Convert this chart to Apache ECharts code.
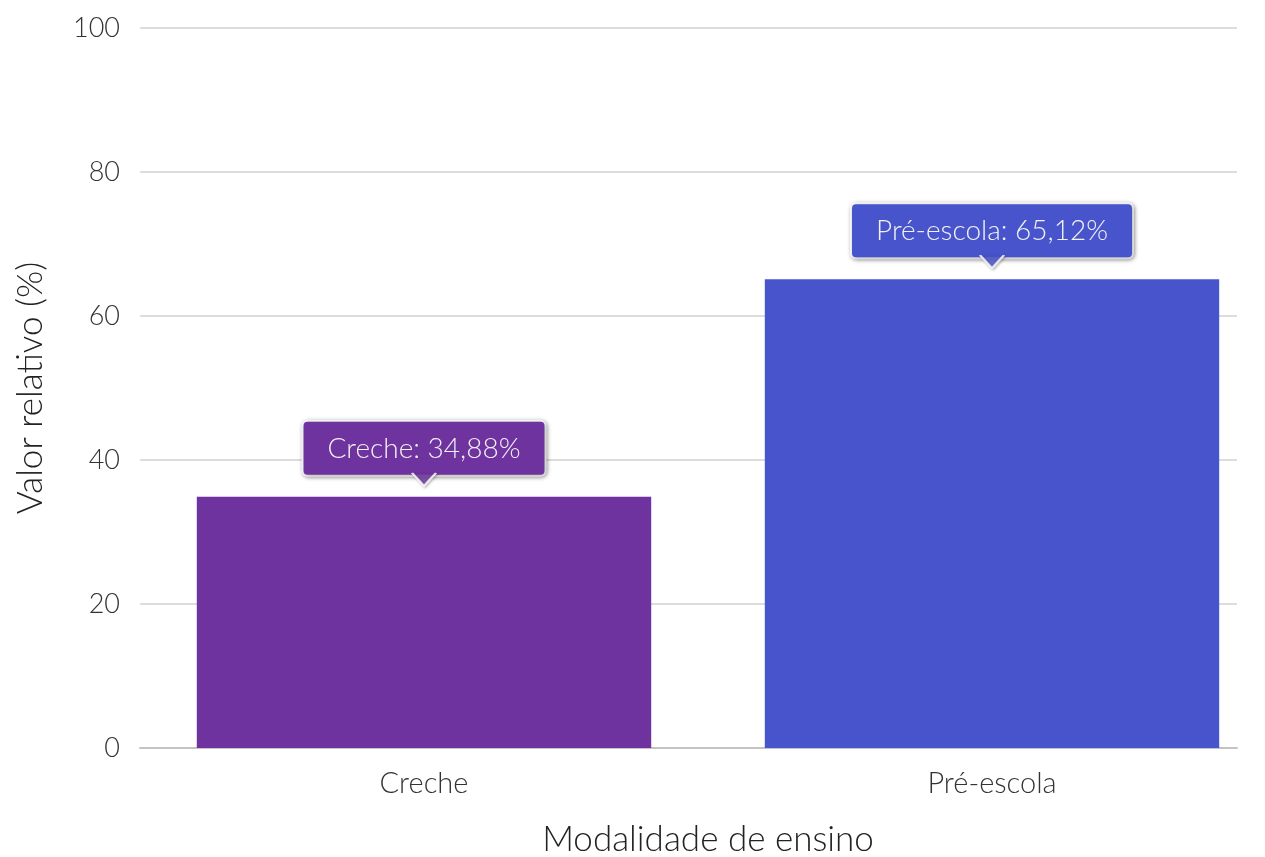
<!DOCTYPE html>
<html><head><meta charset="utf-8">
<script src="https://cdn.jsdelivr.net/npm/echarts@6/dist/echarts.min.js"></script>
<style>html,body{margin:0;padding:0;background:#fff}#c{width:1265px;height:857px}</style>
</head><body><div id="c"></div>
<script>
const categories = ['Creche', 'Pré-escola'];
const values = [34.88, 65.12];
const colors = ['#6f33a0', '#4854cc'];
const yTicks = [0, 20, 40, 60, 80, 100];

const fmt = v => v.toFixed(2).replace('.', ',');
const FONT = 'Lato';
const chart = echarts.init(document.getElementById('c'));
chart.setOption({
  animation: false,
  grid: [
    {left: 140, right: 28, top: 28, bottom: 109, containLabel: false, outerBoundsMode: 'none'},
    {left: 140, right: -11, top: 28, bottom: 109, containLabel: false, outerBoundsMode: 'none'}
  ],
  xAxis: [
    {
      gridIndex: 0, type: 'category', data: categories,
      axisLine: {lineStyle: {color: '#c4c4c4', width: 2}},
      axisTick: {show: false}, axisLabel: {show: false}
    },
    {
      gridIndex: 1, type: 'category', data: categories,
      name: 'Modalidade de ensino', nameLocation: 'middle', nameGap: 74,
      nameTextStyle: {fontFamily: FONT, fontWeight: 300, fontSize: 35, color: '#222'},
      axisLine: {show: false}, axisTick: {show: false},
      axisLabel: {fontFamily: FONT, fontWeight: 300, fontSize: 29, color: '#333', margin: 21}
    }
  ],
  yAxis: [
    {
      gridIndex: 0, type: 'value', min: 0, max: 100, interval: 20,
      name: 'Valor relativo (%)', nameLocation: 'middle', nameGap: 92,
      nameTextStyle: {fontFamily: FONT, fontWeight: 300, fontSize: 35, color: '#222'},
      axisLine: {show: false}, axisTick: {show: false},
      splitLine: {lineStyle: {color: '#dddddd', width: 2}},
      axisLabel: {fontFamily: FONT, fontWeight: 300, fontSize: 27, color: '#333', margin: 20,
        formatter: v => yTicks.includes(v) ? String(v) : ''}
    },
    {
      gridIndex: 1, type: 'value', min: 0, max: 100, interval: 20, show: false
    }
  ],
  series: [
    {
      type: 'bar', xAxisIndex: 1, yAxisIndex: 1, barWidth: '80%', z: 2,
      data: values.map((v, i) => ({value: v, itemStyle: {color: colors[i]}})),
      label: {
        show: true, position: 'top', distance: 22,
        formatter: p => categories[p.dataIndex] + ': ' + fmt(p.value) + '%',
        fontFamily: FONT, fontWeight: 300, fontSize: 28, color: '#f2f2f2',
        backgroundColor: 'inherit', borderColor: '#ffffff', borderWidth: 2, borderRadius: 4,
        padding: [13, 24, 12, 24],
        shadowColor: 'rgba(0,0,0,0.35)', shadowBlur: 4, shadowOffsetX: 1, shadowOffsetY: 1
      }
    },
    {
      type: 'scatter', xAxisIndex: 1, yAxisIndex: 1,
      symbol: 'path://M0 0L12 12L24 0', symbolKeepAspect: false, symbolSize: [24, 13],
      symbolOffset: [0, -17.5], z: 5, silent: true,
      data: values.map((v, i) => ({value: v, itemStyle: {color: colors[i], borderColor: '#fff', borderWidth: 2,
        shadowColor: 'rgba(0,0,0,0.3)', shadowBlur: 3, shadowOffsetX: 1, shadowOffsetY: 1}}))
    }
  ]
});
</script></body></html>
